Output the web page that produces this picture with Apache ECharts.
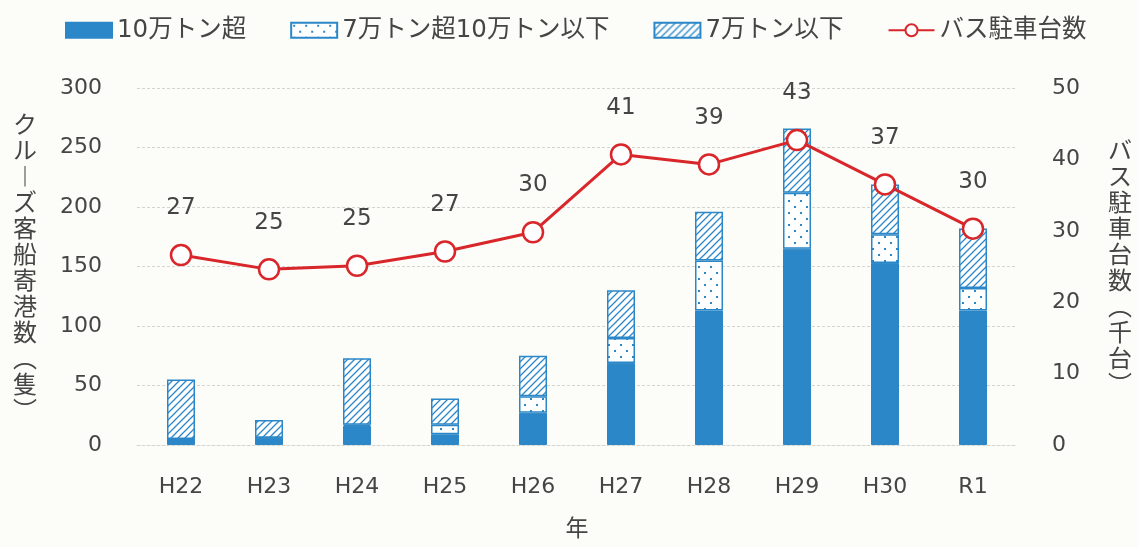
<!DOCTYPE html>
<html>
<head>
<meta charset="utf-8">
<script src="https://cdn.jsdelivr.net/npm/echarts@6/dist/echarts.min.js"></script>
<style>
html,body{margin:0;padding:0;background:#fcfcf8;}
#chart{width:1138px;height:547px;}
</style>
</head>
<body>
<div id="chart"></div>
<script>
const categories = ['H22','H23','H24','H25','H26','H27','H28','H29','H30','R1'];
const over100k = [5, 6, 16, 9, 27, 69, 113, 165, 153, 113];
const between70k100k = [0, 0, 1, 8, 14, 21, 42, 47, 24, 19];
const under70k = [50, 15, 56, 22, 34, 40, 41, 54, 42, 50];
const busParking = [26.6, 24.6, 25.1, 27.1, 29.8, 40.7, 39.3, 42.7, 36.5, 30.3];
const leftTicks = [0, 50, 100, 150, 200, 250, 300];
const rightTicks = [0, 10, 20, 30, 40, 50];

const BLUE = '#2b87c8';
const RED = '#d8262a';
const TXT = '#454545';
const FONT = '"DejaVu Sans", "Noto Sans CJK JP", sans-serif';

function hatchPattern() {
  const c = document.createElement('canvas');
  c.width = 7; c.height = 7;
  const g = c.getContext('2d');
  g.fillStyle = '#ffffff';
  g.fillRect(0, 0, 7, 7);
  g.strokeStyle = BLUE;
  g.lineWidth = 1.3;
  g.beginPath();
  g.moveTo(-1, 8); g.lineTo(8, -1);
  g.moveTo(-1, 1); g.lineTo(1, -1);
  g.moveTo(6, 8); g.lineTo(8, 6);
  g.stroke();
  return c;
}
function dotPattern() {
  const c = document.createElement('canvas');
  c.width = 12; c.height = 12;
  const g = c.getContext('2d');
  g.fillStyle = '#ffffff';
  g.fillRect(0, 0, 12, 12);
  g.fillStyle = BLUE;
  g.fillRect(2, 2, 2, 2);
  g.fillRect(8, 8, 2, 2);
  return c;
}

function vert(s) { return s.split('').join('\n'); }

const chart = echarts.init(document.getElementById('chart'));
chart.setOption({
  backgroundColor: '#fcfcf8',
  textStyle: { fontFamily: FONT },
  legend: {
    top: 13,
    left: 60,
    itemGap: 44,
    itemWidth: 46,
    itemHeight: 15,
    textStyle: { fontSize: 24.5, color: TXT, fontFamily: FONT },
    data: [
      { name: '10万トン超', icon: 'rect' },
      { name: '7万トン超10万トン以下', icon: 'rect' },
      { name: '7万トン以下', icon: 'rect' },
      { name: 'バス駐車台数' }
    ]
  },
  grid: { left: 137, right: 121, top: 88, bottom: 98 },
  xAxis: {
    type: 'category',
    data: categories,
    name: '年',
    nameLocation: 'middle',
    nameGap: 74,
    nameTextStyle: { fontSize: 23, color: TXT },
    axisLine: { show: true, lineStyle: { color: '#d4d4d0', type: [3, 2] } },
    axisTick: { show: false },
    axisLabel: { fontSize: 22, color: TXT, margin: 31 }
  },
  yAxis: [
    {
      type: 'value',
      min: leftTicks[0],
      max: leftTicks[leftTicks.length - 1],
      interval: 50,
      name: vert('クル︱ズ客船寄港数︵隻︶'),
      nameLocation: 'middle',
      nameRotate: 0,
      nameGap: 112,
      nameTextStyle: { fontSize: 24, lineHeight: 26, color: TXT, align: 'center', fontFamily: '"Noto Sans CJK JP", sans-serif' },
      axisLine: { show: false },
      axisTick: { show: false },
      axisLabel: { fontSize: 22, color: TXT, margin: 35, padding: [0, 0, 8, 0] },
      splitLine: { lineStyle: { color: '#d4d4d0', type: [3, 2], width: 1 } }
    },
    {
      type: 'value',
      min: rightTicks[0],
      max: rightTicks[rightTicks.length - 1],
      interval: 10,
      position: 'right',
      name: vert('バス駐車台数︵千台︶'),
      nameLocation: 'middle',
      nameRotate: 0,
      nameGap: 103,
      nameTextStyle: { fontSize: 24, lineHeight: 26, color: TXT, align: 'center', fontFamily: '"Noto Sans CJK JP", sans-serif' },
      axisLine: { show: false },
      axisTick: { show: false },
      axisLabel: { fontSize: 22, color: TXT, margin: 35, padding: [0, 0, 8, 0] },
      splitLine: { show: false }
    }
  ],
  series: [
    {
      name: '10万トン超',
      type: 'bar',
      stack: 'ships',
      barWidth: 28,
      data: over100k,
      itemStyle: { color: BLUE, borderColor: BLUE, borderWidth: 1 }
    },
    {
      name: '7万トン超10万トン以下',
      type: 'bar',
      stack: 'ships',
      barWidth: 28,
      data: between70k100k,
      itemStyle: { color: { image: dotPattern(), repeat: 'repeat' }, borderColor: BLUE, borderWidth: 1.5 }
    },
    {
      name: '7万トン以下',
      type: 'bar',
      stack: 'ships',
      barWidth: 28,
      data: under70k,
      itemStyle: { color: { image: hatchPattern(), repeat: 'repeat' }, borderColor: BLUE, borderWidth: 1.5 }
    },
    {
      name: 'バス駐車台数',
      type: 'line',
      yAxisIndex: 1,
      data: busParking,
      symbol: 'circle',
      symbolSize: 20,
      lineStyle: { color: RED, width: 3 },
      itemStyle: { color: '#ffffff', borderColor: RED, borderWidth: 2.5 },
      label: {
        show: true,
        position: 'top',
        distance: 24,
        fontSize: 23,
        color: TXT,
        formatter: p => Math.round(p.value)
      },
      z: 5
    }
  ]
});
</script>
</body>
</html>
